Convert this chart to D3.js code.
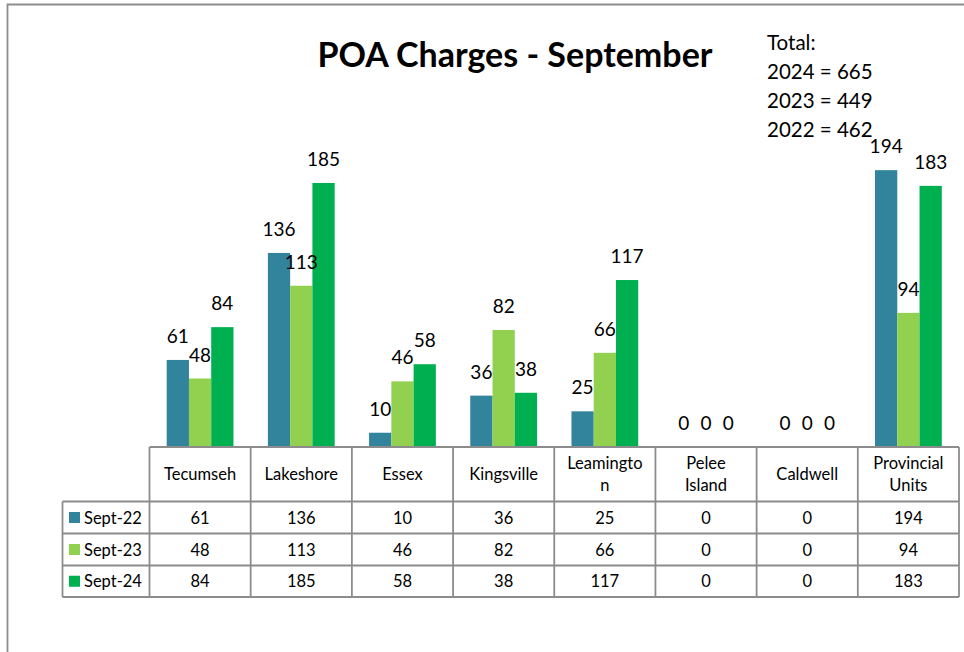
<!DOCTYPE html>
<html lang="en">
<head>
<meta charset="UTF-8">
<title>POA Charges - September</title>
<style>
  body { margin: 0; background: #fff; }
  svg { display: block; font-family: Lato, "Open Sans", sans-serif; }
  .grid { stroke: #8c8c8c; stroke-width: 1.8px; fill: none; }
  .lbl { font-size: 19px; fill: #000; text-anchor: middle; }
  .cell { font-size: 16.5px; fill: #000; text-anchor: middle; }
</style>
</head>
<body>
<div id="chart"></div>
<script src="https://d3js.org/d3.v7.min.js"></script>
<script>
// data
const categories = ['Tecumseh', 'Lakeshore', 'Essex', 'Kingsville', 'Leamington', 'Pelee Island', 'Caldwell', 'Provincial Units'];
const headerLines = [['Tecumseh'], ['Lakeshore'], ['Essex'], ['Kingsville'], ['Leamingto', 'n'], ['Pelee', 'Island'], ['Caldwell'], ['Provincial', 'Units']];
const seriesNames = ['Sept-22', 'Sept-23', 'Sept-24'];
const sept22 = [61, 136, 10, 36, 25, 0, 0, 194];
const sept23 = [48, 113, 46, 82, 66, 0, 0, 94];
const sept24 = [84, 185, 58, 38, 117, 0, 0, 183];
const colors = ['#31849B', '#92D050', '#00B050'];
const totalsText = ['Total:', '2024 = 665', '2023 = 449', '2022 = 462'];

const series = [sept22, sept23, sept24];
const W = 964, H = 652;
const left = 149.5, right = 959, base = 447;

const svg = d3.select('#chart').append('svg').attr('width', W).attr('height', H);

// outer frame
svg.append('path').attr('class', 'grid').attr('d', `M7.5,${H} V4.5 H${W}`);

const x = d3.scaleBand().domain(categories).range([left, right]).paddingInner(0).paddingOuter(0);
const xs = d3.scaleBand().domain(seriesNames).range([0, x.bandwidth() * 0.66]);
const off = x.bandwidth() * 0.17;
const y = d3.scaleLinear().domain([0, 200]).range([base, base - 285.4]);

// bars first, then all labels on top
const barLayer = svg.append('g');
const lblLayer = svg.append('g');
series.forEach((vals, si) => {
  barLayer.append('g').selectAll('rect').data(vals).enter().append('rect')
    .attr('x', (d, i) => x(categories[i]) + off + xs(seriesNames[si]))
    .attr('y', d => y(d))
    .attr('width', xs.bandwidth())
    .attr('height', d => base - y(d))
    .attr('fill', colors[si]);
  lblLayer.append('g').selectAll('text').data(vals).enter().append('text')
    .attr('class', 'lbl')
    .attr('x', (d, i) => x(categories[i]) + off + xs(seriesNames[si]) + xs.bandwidth() / 2)
    .attr('y', d => y(d) - 17)
    .text(d => d);
});

// title
svg.append('text').attr('x', 515).attr('y', 67)
  .attr('text-anchor', 'middle').attr('font-size', 34).attr('font-weight', 'bold')
  .text('POA Charges - September');

// totals
svg.append('g').selectAll('text').data(totalsText).enter().append('text')
  .attr('x', 767).attr('y', (d, i) => 50 + i * 29)
  .attr('font-size', 20.5).text(d => d);

// data table
const rowY = [base, 501.5, 533.5, 565.5, 597];
const legLeft = 62.5;
const t = svg.append('g');
// horizontal lines
t.append('line').attr('class', 'grid').attr('x1', left).attr('x2', right).attr('y1', base).attr('y2', base);
rowY.slice(1).forEach(yy => {
  t.append('line').attr('class', 'grid').attr('x1', legLeft).attr('x2', right).attr('y1', yy).attr('y2', yy);
});
// vertical lines
t.append('line').attr('class', 'grid').attr('x1', legLeft).attr('x2', legLeft).attr('y1', rowY[1]).attr('y2', rowY[4]);
categories.concat(['end']).forEach((c, i) => {
  const xx = left + i * x.bandwidth();
  t.append('line').attr('class', 'grid').attr('x1', xx).attr('x2', xx).attr('y1', base).attr('y2', rowY[4]);
});

// header cells
headerLines.forEach((lines, i) => {
  const cx = x(categories[i]) + x.bandwidth() / 2;
  const cy = (rowY[0] + rowY[1]) / 2;
  lines.forEach((ln, j) => {
    t.append('text').attr('class', 'cell').attr('x', cx)
      .attr('y', cy + 6 + (j - (lines.length - 1) / 2) * 22)
      .text(ln);
  });
});

// rows
series.forEach((vals, si) => {
  const cy = (rowY[si + 1] + rowY[si + 2]) / 2;
  t.append('rect').attr('x', 69).attr('y', cy - 5.5).attr('width', 11).attr('height', 11).attr('fill', colors[si]);
  t.append('text').attr('x', 84).attr('y', cy + 6).attr('font-size', 16.5).text(seriesNames[si]);
  vals.forEach((v, i) => {
    t.append('text').attr('class', 'cell')
      .attr('x', x(categories[i]) + x.bandwidth() / 2).attr('y', cy + 6).text(v);
  });
});
</script>
</body>
</html>
